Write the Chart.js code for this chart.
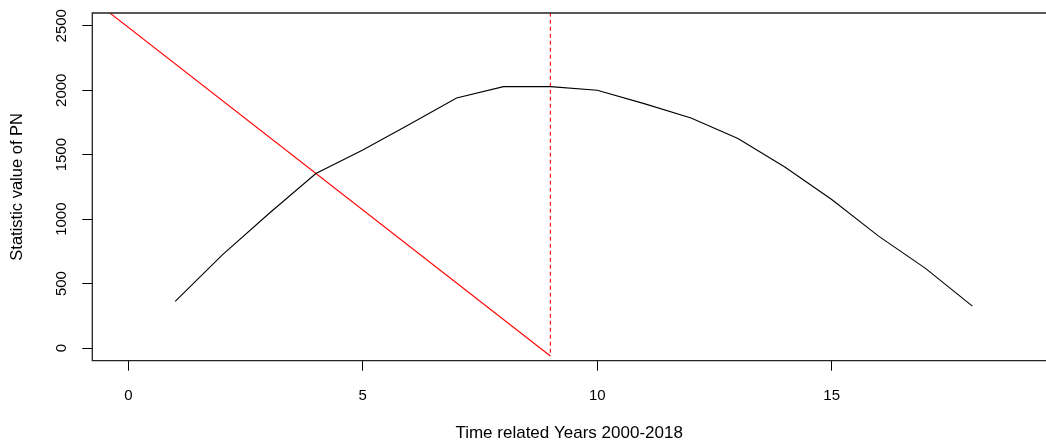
<!DOCTYPE html>
<html><head><meta charset="utf-8">
<script src="https://cdn.jsdelivr.net/npm/chart.js@4.4.1/dist/chart.umd.min.js"></script>
<style>html,body{margin:0;padding:0;background:#fff}#wrap{width:1046px;height:446px}</style>
</head><body><div id="wrap"><canvas id="c" width="1046" height="446"></canvas></div>
<script>
const years = [1,2,3,4,5,6,7,8,9,10,11,12,13,14,15,16,17,18];
const pnValues = [362,721,1044,1354,1537,1736,1940,2028,2028,2000,1896,1785,1625,1405,1152,868,618,325];
const trendX = [-1, 9];
const trendY = [2771, -62];
const markX = [9, 9];
const markY = [2600, -62];
const xTicks = [0, 5, 10, 15];
const yTicks = [0, 500, 1000, 1500, 2000, 2500];
const xTitle = 'Time related Years 2000-2018';
const yTitle = 'Statistic value of PN';

const pts = (xs, ys) => xs.map((x, i) => ({x: x, y: ys[i]}));
const FONT = 'Liberation Sans, Arial, Helvetica, sans-serif';

const boxPlugin = {
  id: 'box',
  afterDraw(chart) {
    const a = chart.chartArea, ctx = chart.ctx;
    ctx.save();
    ctx.strokeStyle = '#222';
    ctx.lineWidth = 1.3;
    ctx.beginPath();
    ctx.moveTo(chart.width + 2, a.top);
    ctx.lineTo(a.left, a.top);
    ctx.lineTo(a.left, a.bottom);
    ctx.lineTo(chart.width + 2, a.bottom);
    ctx.stroke();
    ctx.restore();
  }
};

new Chart(document.getElementById('c'), {
  type: 'line',
  data: {
    datasets: [
      {data: pts(years, pnValues), borderColor: '#000', borderWidth: 1.1, pointRadius: 0, tension: 0},
      {data: pts(trendX, trendY), borderColor: '#ff0000', borderWidth: 1.1, pointRadius: 0, tension: 0},
      {data: pts(markX, markY), borderColor: '#ff0000', borderWidth: 1.1, borderDash: [4, 3], pointRadius: 0, tension: 0}
    ]
  },
  options: {
    responsive: false,
    animation: false,
    devicePixelRatio: 1,
    layout: {padding: {top: 13, left: 0, right: 0, bottom: 0}},
    plugins: {legend: {display: false}, tooltip: {enabled: false}},
    scales: {
      x: {
        type: 'linear', min: -0.768, max: 19.57,
        afterBuildTicks: s => { s.ticks = xTicks.map(v => ({value: v})); },
        afterFit: s => { s.height = 85.3; },
        grid: {display: true, drawOnChartArea: false, drawTicks: true, tickLength: 10, color: '#000', lineWidth: 1},
        border: {display: false},
        ticks: {font: {family: FONT, size: 15}, color: '#000', padding: 16, maxRotation: 0, autoSkip: false,
                callback: v => String(v)},
        title: {display: true, text: xTitle, font: {family: FONT, size: 17}, color: '#000', padding: {top: 0, bottom: 2}}
      },
      y: {
        type: 'linear', min: -98, max: 2599,
        afterBuildTicks: s => { s.ticks = yTicks.map(v => ({value: v})); },
        afterFit: s => { s.width = 92.3; },
        grid: {display: true, drawOnChartArea: false, drawTicks: true, tickLength: 10, color: '#000', lineWidth: 1},
        border: {display: false},
        ticks: {font: {family: FONT, size: 15}, color: '#000', padding: 4, minRotation: 90, maxRotation: 90, crossAlign: 'center', autoSkip: false,
                callback: v => String(v)},
        title: {display: true, text: yTitle, font: {family: FONT, size: 16.5}, color: '#000', padding: {top: 8, bottom: 0}}
      }
    }
  },
  plugins: [boxPlugin]
});
</script></body></html>
